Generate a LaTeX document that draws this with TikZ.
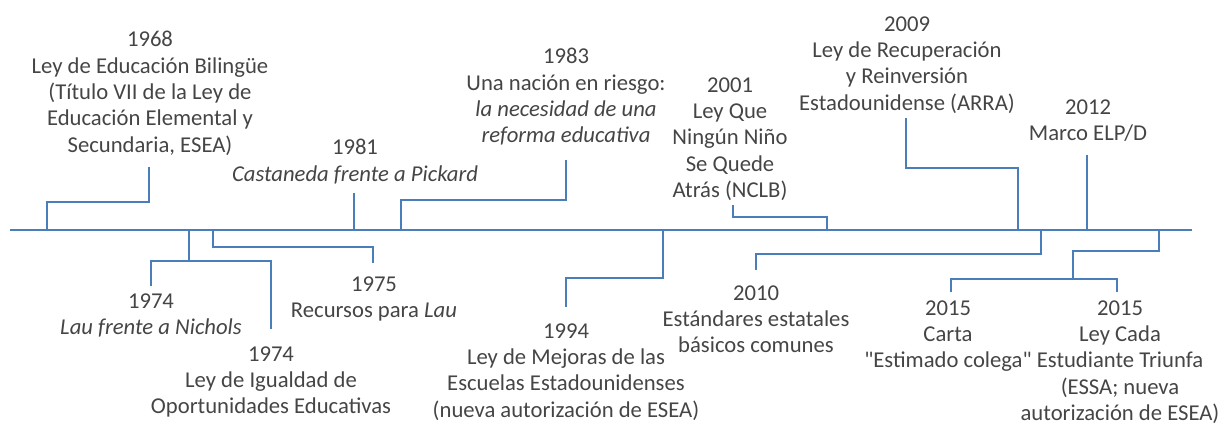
\documentclass[tikz,border=0pt]{standalone}
\usepackage{fontspec}
\setmainfont{Carlito}[Ligatures=TeXOff]
\usepackage{tikz}

\definecolor{linkblue}{HTML}{4A7EBB}
\definecolor{labelgray}{HTML}{454545}

\begin{document}
\begin{tikzpicture}[x=0.02cm,y=-0.02cm]
  \tikzset{event/.style = {anchor=north,align=center,inner sep=0pt,text=labelgray,font=\fontsize{12.9}{15}\selectfont}}
  \tikzset{link/.style = {draw=linkblue,line width=1.4pt}}
  \useasboundingbox (0,0) rectangle (1225,424);

  % time axis
  \coordinate (start) at (10,230);
  \coordinate (stop) at (1192,230);
  \draw[link] (start) -- (stop);

  % events above the axis
  \node[event] (n1968) at (150,31) {1968\\Ley de Educación Bilingüe\\(Título VII de la Ley de\\Educación Elemental y\\Secundaria, ESEA)};
  \node[event] (n1981) at (355,139) {1981\\\textit{Castaneda frente a Pickard}};
  \node[event] (n1983) at (566,48) {1983\\Una nación en riesgo:\\\textit{la necesidad de una}\\\textit{reforma educativa}};
  \node[event] (n2001) at (730,77) {2001\\Ley Que\\Ningún Niño\\Se Quede\\Atrás (NCLB)};
  \node[event] (n2009) at (907,16) {2009\\Ley de Recuperación\\y Reinversión\\Estadounidense (ARRA)};
  \node[event] (n2012) at (1088,99) {2012\\Marco ELP/D};

  % events below the axis
  \node[event] (n1974a) at (151,293) {1974\\\textit{Lau frente a Nichols}};
  \node[event] (n1974b) at (271,346) {1974\\Ley de Igualdad de\\Oportunidades Educativas};
  \node[event] (n1975) at (374,276) {1975\\Recursos para \textit{Lau}};
  \node[event] (n1994) at (566,323) {1994\\Ley de Mejoras de las\\Escuelas Estadounidenses\\(nueva autorización de ESEA)};
  \node[event] (n2010) at (756,285) {2010\\Estándares estatales\\básicos comunes};
  \node[event] (n2015a) at (948,300) {2015\\Carta\\"Estimado colega"};
  \node[event] (n2015b) at (1120,300) {2015\\Ley Cada\\Estudiante Triunfa\\(ESSA; nueva\\autorización de ESEA)};

  % ends of the connectors
  \coordinate (a1968) at (47,230);   \coordinate (e1968) at (149,167);
  \coordinate (a1981) at (354,230);  \coordinate (e1981) at (354,193);
  \coordinate (a1983) at (401,230);  \coordinate (e1983) at (566,160);
  \coordinate (a2001) at (827,230);  \coordinate (e2001) at (733,205);
  \coordinate (a2009) at (1018,230); \coordinate (e2009) at (906,118);
  \coordinate (a2012) at (1087,230); \coordinate (e2012) at (1087,155);
  \coordinate (a1974) at (189,230);  \coordinate (e1974a) at (151,286); \coordinate (e1974b) at (271,329);
  \coordinate (a1975) at (213,230);  \coordinate (e1975) at (373,263);
  \coordinate (a1994) at (663,230);  \coordinate (e1994) at (566,307);
  \coordinate (a2010) at (1041,230); \coordinate (e2010) at (756,270);
  \coordinate (a2015) at (1159,230); \coordinate (e2015a) at (951,292); \coordinate (e2015b) at (1117,292);

  \draw[link] (a1968) -- ++(0,-28) -| (e1968);
  \draw[link] (a1981) -- (e1981);
  \draw[link] (a1983) -- ++(0,-30) -| (e1983);
  \draw[link] (a2001) -- ++(0,-13) -| (e2001);
  \draw[link] (a2009) -- ++(0,-62) -| (e2009);
  \draw[link] (a2012) -- (e2012);

  \draw[link] (a1974) -- ++(0,31) coordinate (b1974);
  \draw[link] (e1974a) |- (b1974) -| (e1974b);
  \draw[link] (a1975) -- ++(0,17) -| (e1975);
  \draw[link] (a1994) -- ++(0,48) -| (e1994);
  \draw[link] (a2010) -- ++(0,24) -| (e2010);
  \draw[link] (a2015) -- ++(0,21) -| ++(-86,28) coordinate (b2015);
  \draw[link] (e2015a) |- (b2015) -| (e2015b);

\end{tikzpicture}
\end{document}
